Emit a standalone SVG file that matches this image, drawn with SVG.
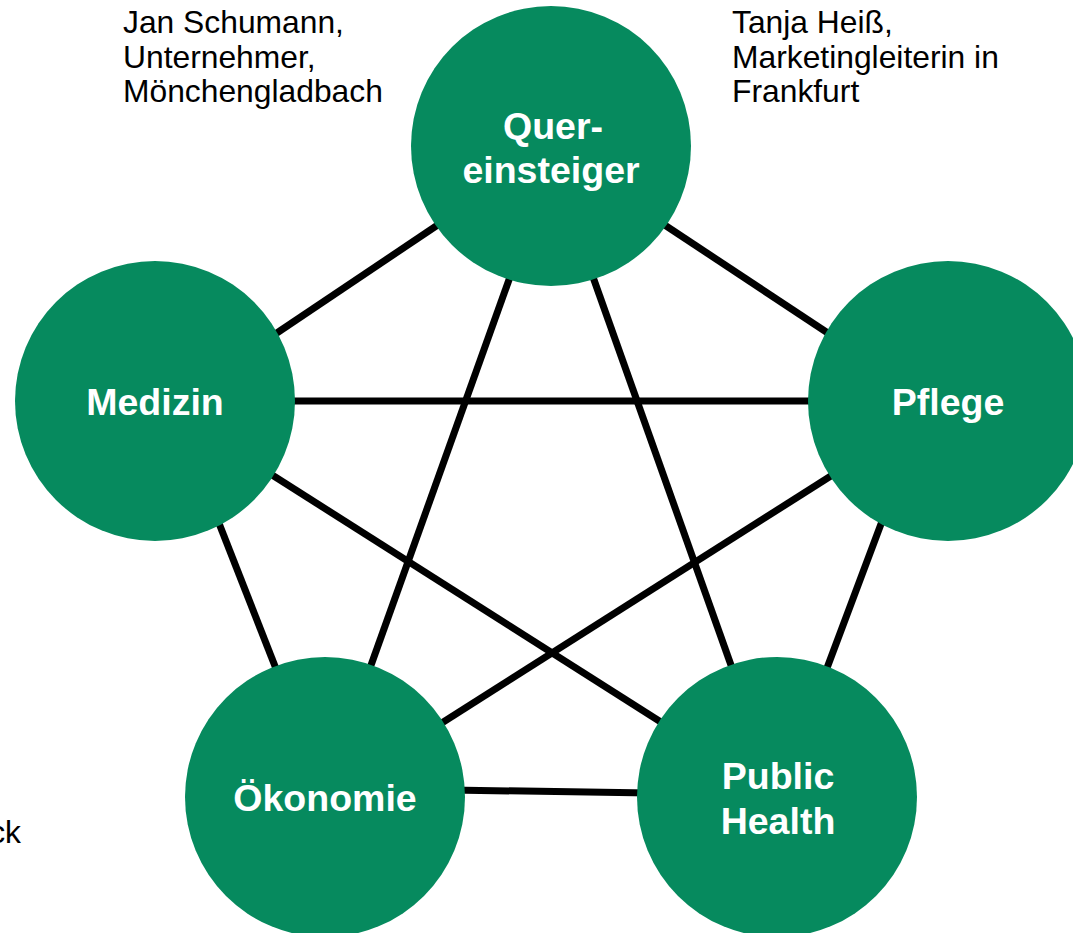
<svg xmlns="http://www.w3.org/2000/svg" width="1073" height="933" viewBox="0 0 1073 933">
<style>
.bg{fill:#ffffff}
.edge{stroke:#000000;stroke-width:7;fill:none}
.node{fill:#068a5e}
.lbl{font-family:"Liberation Sans",Arial,sans-serif;font-weight:bold;font-size:37.5px;fill:#ffffff;text-anchor:middle}
.note{font-family:"Liberation Sans",Arial,sans-serif;font-size:31.8px;fill:#000000}
</style>
<rect class="bg" x="0" y="0" width="1073" height="933"/>
<g id="connectors">
<line class="edge" x1="253" y1="349" x2="460" y2="210"/>
<line class="edge" x1="642" y1="210" x2="852" y2="349"/>
<line class="edge" x1="515" y1="263" x2="365" y2="682"/>
<line class="edge" x1="588" y1="263" x2="737" y2="682"/>
<line class="edge" x1="280" y1="401" x2="825" y2="401"/>
<line class="edge" x1="213" y1="508" x2="282" y2="684"/>
<line class="edge" x1="258" y1="466" x2="675" y2="731"/>
<line class="edge" x1="845" y1="467" x2="426" y2="733"/>
<line class="edge" x1="887" y1="508" x2="821" y2="684"/>
<line class="edge" x1="450" y1="790" x2="650" y2="793"/>
</g>
<g id="node-quereinsteiger">
<circle class="node" cx="551" cy="146" r="140"/>
<text class="lbl" x="553" y="139">Quer-</text>
<text class="lbl" x="551" y="183">einsteiger</text>
</g>
<g id="node-medizin">
<circle class="node" cx="155" cy="401" r="140"/>
<text class="lbl" x="155" y="415">Medizin</text>
</g>
<g id="node-pflege">
<circle class="node" cx="948" cy="401" r="140"/>
<text class="lbl" x="948" y="415">Pflege</text>
</g>
<g id="node-oekonomie">
<circle class="node" cx="325" cy="797" r="140"/>
<text class="lbl" x="325" y="811">Ökonomie</text>
</g>
<g id="node-publichealth">
<circle class="node" cx="777" cy="797" r="140"/>
<text class="lbl" x="778" y="789">Public</text>
<text class="lbl" x="778" y="834">Health</text>
</g>
<g id="note-jan">
<text class="note" x="123" y="33">Jan Schumann,</text>
<text class="note" x="123" y="68">Unternehmer,</text>
<text class="note" x="123" y="102">Mönchengladbach</text>
</g>
<g id="note-tanja">
<text class="note" x="732" y="33">Tanja Heiß,</text>
<text class="note" x="732" y="68">Marketingleiterin in</text>
<text class="note" x="732" y="102">Frankfurt</text>
</g>
<g id="note-cut">
<text class="note" x="21" y="843" text-anchor="end">ck</text>
</g>
</svg>
